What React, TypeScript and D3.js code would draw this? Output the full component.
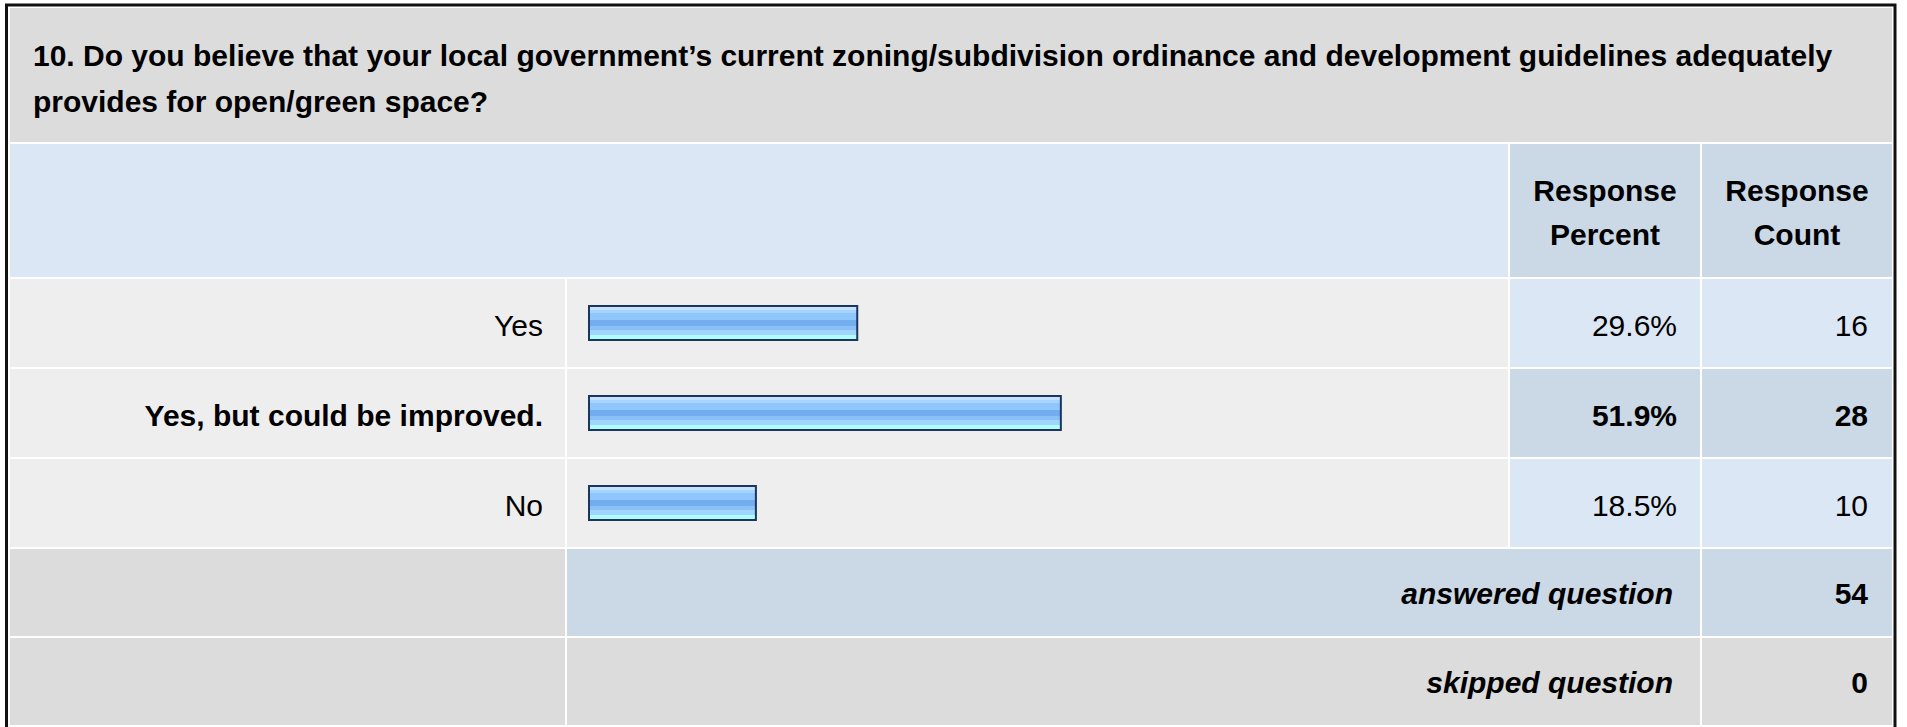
import { scaleBand, scaleLinear, max } from 'd3'

const QUESTION_LINES = [
  '10. Do you believe that your local government\u2019s current zoning/subdivision ordinance and development guidelines adequately',
  'provides for open/green space?',
]
const ANSWERS = ['Yes', 'Yes, but could be improved.', 'No']
const PERCENTS = [29.6, 51.9, 18.5]
const COUNTS = [16, 28, 10]
const HEADER_COLS = [
  ['Response', 'Percent'],
  ['Response', 'Count'],
]
const ANSWERED = 54
const SKIPPED = 0

const W = 1907
const H = 727
const FONT = '"Liberation Sans", Arial, Helvetica, sans-serif'
const FS = 30

const GREY = '#dcdcdc'
const LIGHT = '#eeeeee'
const BLUE = '#dce7f5'
const BLUE_DARK = '#cbd8e6'

// column edges
const colLabel = [10, 565]
const colBar = [567, 1508]
const colPct = [1510, 1700]
const colCnt = [1702, 1892]

// gradient stripes of the bar fill (top to bottom)
const STRIPES: [number, string][] = [
  [0, '#c4e2ff'],
  [0.11, '#a6d3ff'],
  [0.22, '#8fc6fb'],
  [0.41, '#72adf0'],
  [0.6, '#8bc0f7'],
  [0.71, '#a0d6fd'],
  [0.84, '#b0fdff'],
  [1, '#b0fdff'],
]

export default function App() {
  const y = scaleBand<string>().domain(ANSWERS).range([279, 547]).paddingInner(2 / 90)
  const x = scaleLinear().domain([0, 100]).range([588, 1501])
  const top = max(COUNTS) ?? 0
  const rowH = y.bandwidth()
  const ansY = 549
  const skipY = 638
  const sumH = 87

  const text = (
    s: string,
    tx: number,
    ty: number,
    anchor: 'start' | 'middle' | 'end',
    bold = false,
    italic = false,
  ) => (
    <text
      x={tx}
      y={ty}
      textAnchor={anchor}
      fontFamily={FONT}
      fontSize={FS}
      fontWeight={bold ? 'bold' : 'normal'}
      fontStyle={italic ? 'italic' : 'normal'}
      fill="#000"
    >
      {s}
    </text>
  )

  return (
    <svg
      width={W}
      height={H}
      viewBox={`0 0 ${W} ${H}`}
      style={{ position: 'absolute', left: 0, top: 0, background: '#fff' }}
    >
      <defs>
        <linearGradient id="barFill" x1="0" y1="0" x2="0" y2="1">
          {STRIPES.slice(0, -1).map(([o, c], i) => [
            <stop key={`a${i}`} offset={o} stopColor={c} />,
            <stop key={`b${i}`} offset={STRIPES[i + 1][0]} stopColor={c} />,
          ])}
        </linearGradient>
      </defs>

      {/* question title */}
      <rect x={colLabel[0]} y={8} width={colCnt[1] - colLabel[0]} height={134} fill={GREY} />
      {QUESTION_LINES.map((l, i) => (
        <g key={i}>{text(l, 33, 66 + i * 46, 'start', true)}</g>
      ))}

      {/* header row */}
      <rect x={colLabel[0]} y={144} width={colBar[1] - colLabel[0]} height={133} fill={BLUE} />
      {[colPct, colCnt].map((c, i) => (
        <g key={i}>
          <rect x={c[0]} y={144} width={c[1] - c[0]} height={133} fill={BLUE_DARK} />
          {text(HEADER_COLS[i][0], (c[0] + c[1]) / 2, 201, 'middle', true)}
          {text(HEADER_COLS[i][1], (c[0] + c[1]) / 2, 245, 'middle', true)}
        </g>
      ))}

      {/* answer rows */}
      {ANSWERS.map((a, i) => {
        const ry = y(a) ?? 0
        const cy = ry + rowH / 2
        const hi = COUNTS[i] === top
        return (
          <g key={a}>
            <rect x={colLabel[0]} y={ry} width={colLabel[1] - colLabel[0]} height={rowH} fill={LIGHT} />
            <rect x={colBar[0]} y={ry} width={colBar[1] - colBar[0]} height={rowH} fill={LIGHT} />
            <rect x={colPct[0]} y={ry} width={colPct[1] - colPct[0]} height={rowH} fill={hi ? BLUE_DARK : BLUE} />
            <rect x={colCnt[0]} y={ry} width={colCnt[1] - colCnt[0]} height={rowH} fill={hi ? BLUE_DARK : BLUE} />
            <rect
              x={x(0) + 1}
              y={cy - 17}
              width={x(PERCENTS[i]) - x(0) - 2}
              height={34}
              fill="url(#barFill)"
              stroke="#1c355e"
              strokeWidth={2}
            />
            {text(a, 543, cy + 13, 'end', hi)}
            {text(`${PERCENTS[i].toFixed(1)}%`, 1677, cy + 13, 'end', hi)}
            {text(String(COUNTS[i]), 1868, cy + 13, 'end', hi)}
          </g>
        )
      })}

      {/* answered question */}
      <rect x={colLabel[0]} y={ansY} width={colLabel[1] - colLabel[0]} height={sumH} fill={GREY} />
      <rect x={colBar[0]} y={ansY} width={colPct[1] - colBar[0]} height={sumH} fill={BLUE_DARK} />
      <rect x={colCnt[0]} y={ansY} width={colCnt[1] - colCnt[0]} height={sumH} fill={BLUE_DARK} />
      {text('answered question', 1673, ansY + sumH / 2 + 11, 'end', true, true)}
      {text(String(ANSWERED), 1868, ansY + sumH / 2 + 11, 'end', true)}

      {/* skipped question */}
      <rect x={colLabel[0]} y={skipY} width={colLabel[1] - colLabel[0]} height={sumH} fill={GREY} />
      <rect x={colBar[0]} y={skipY} width={colPct[1] - colBar[0]} height={sumH} fill={GREY} />
      <rect x={colCnt[0]} y={skipY} width={colCnt[1] - colCnt[0]} height={sumH} fill={GREY} />
      {text('skipped question', 1673, skipY + sumH / 2 + 11, 'end', true, true)}
      {text(String(SKIPPED), 1868, skipY + sumH / 2 + 11, 'end', true)}

      {/* outer border */}
      <rect x={6.5} y={5} width={1895 - 6.5} height={H + 10} fill="none" stroke="#111" strokeWidth={3} />
    </svg>
  )
}
